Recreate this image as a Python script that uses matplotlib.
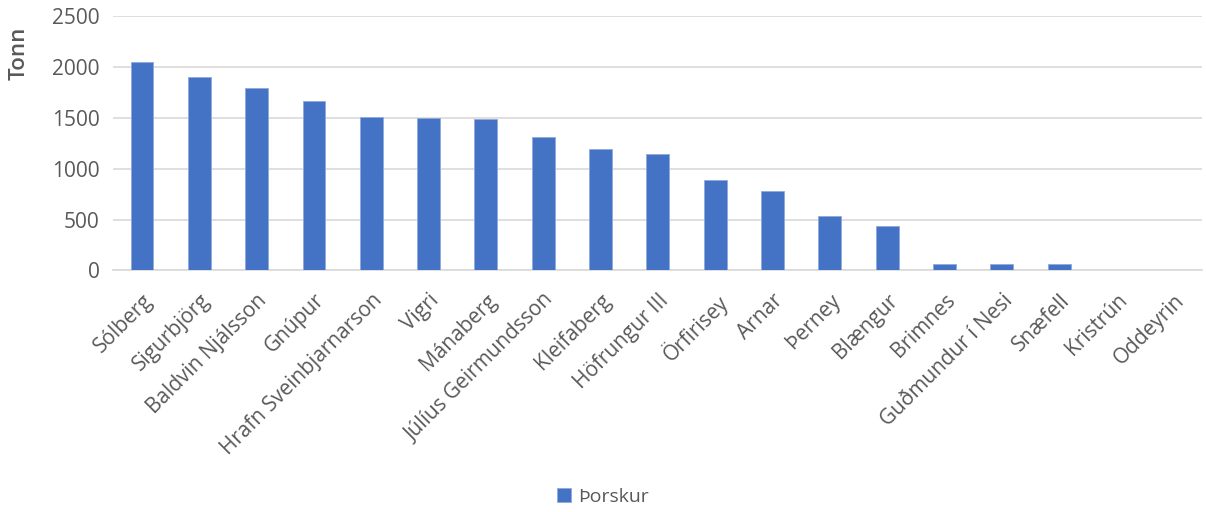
import numpy as np
import matplotlib.pyplot as plt

skip = ["Sólberg", "Sigurbjörg", "Baldvin Njálsson", "Gnúpur", "Hrafn Sveinbjarnarson",
        "Vigri", "Mánaberg", "Júlíus Geirmundsson", "Kleifaberg", "Höfrungur III",
        "Örfirisey", "Arnar", "Þerney", "Blængur", "Brimnes", "Guðmundur í Nesi",
        "Snæfell", "Kristrún", "Oddeyrin"]
thorskur = [2055, 1908, 1792, 1667, 1512, 1502, 1492, 1314, 1195, 1145,
            891, 777, 535, 433, 65, 65, 65, 0, 0]
yticks = [0, 500, 1000, 1500, 2000, 2500]

plt.rcParams['font.family'] = ['Open Sans', 'DejaVu Sans']
grey = '#595959'

fig = plt.figure(figsize=(12.06, 5.12), dpi=100)
ax = fig.add_axes([0.094, 0.472, 0.903, 0.496])

x = np.arange(len(skip))
ax.bar(x, thorskur, width=0.4, color='#4472C4', edgecolor='#8FAADC', linewidth=0.6,
       label='Þorskur', zorder=3)

ax.set_xlim(-0.5, len(skip) - 0.5)
ax.set_ylim(0, 2500)
ax.set_yticks(yticks)
ax.set_xticks(x)
ax.set_xticklabels(skip, rotation=45, ha='right', rotation_mode='anchor')
ax.tick_params(axis='both', length=0, labelsize=15, colors=grey)
ax.tick_params(axis='x', pad=14)
ax.tick_params(axis='y', pad=10)
ax.grid(axis='y', color='#D9D9D9', linewidth=1.2, zorder=0)
for s in ['top', 'right', 'left']:
    ax.spines[s].set_visible(False)
ax.spines['bottom'].set_color('#D9D9D9')
ax.spines['bottom'].set_linewidth(1.2)
ax.set_ylabel('Tonn', fontsize=16, color=grey, fontweight='semibold')
ax.yaxis.set_label_coords(-0.077, 0.856)

fig.legend(loc='center', bbox_to_anchor=(0.5, 0.03), frameon=False, fontsize=14,
           labelcolor=grey, handlelength=0.7, handleheight=0.7, handletextpad=0.4)

fig.savefig('out.png', dpi=100)
